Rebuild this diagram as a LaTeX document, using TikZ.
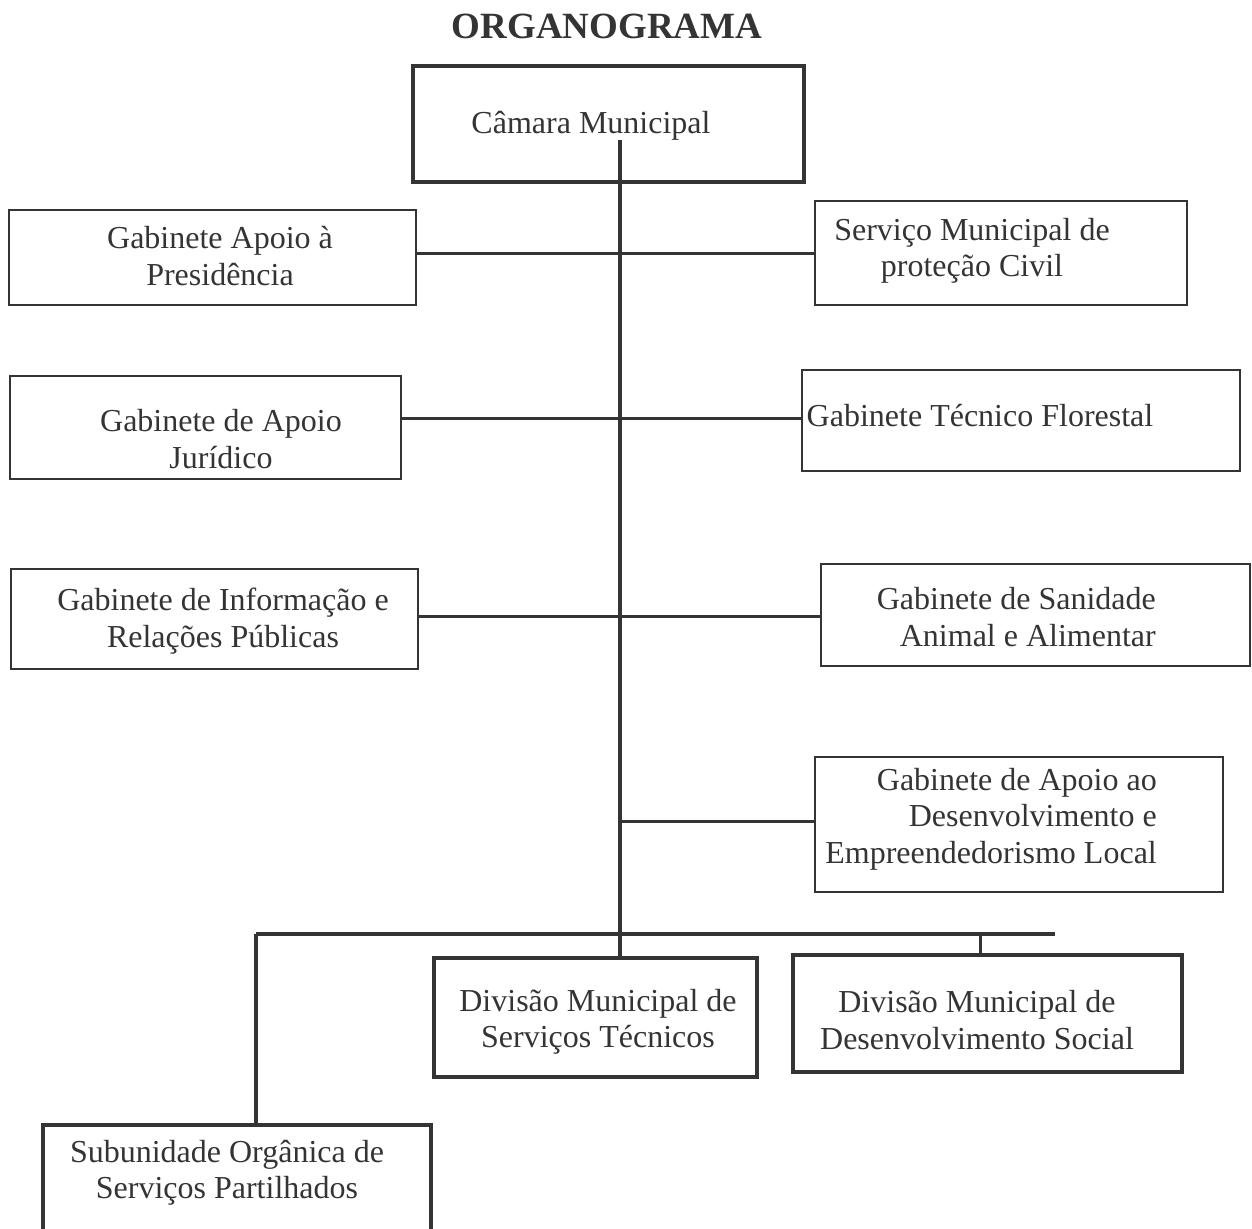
\documentclass[tikz,border=0pt]{standalone}
\usepackage{fontspec}
\setmainfont{Liberation Serif}
\definecolor{ink}{RGB}{52,52,52}
\begin{document}
\begin{tikzpicture}[x=1pt,y=-1pt,
  box/.style={draw=ink,line width=2.8pt,inner sep=0pt},
  thickbox/.style={draw=ink,line width=4.2pt,inner sep=0pt},
  lbl/.style={text=ink,inner sep=0pt,font=\fontsize{32}{36.5}\selectfont},
  conn/.style={draw=ink,line width=3pt},
  thickconn/.style={draw=ink,line width=4.4pt}]
\useasboundingbox (0,0) rectangle (1252,1228);
\clip (0,0) rectangle (1252,1228);
% title
\node[text=ink,inner sep=0pt,font=\fontsize{37}{40}\selectfont\bfseries] (title) at (607,26) {ORGANOGRAMA};
% boxes
\node[thickbox,minimum width=391,minimum height=116] (camara) at (608.5,124) {};
\node[box,minimum width=407,minimum height=95] (gap) at (212.5,257.5) {};
\node[box,minimum width=372,minimum height=104] (smpc) at (1001,253) {};
\node[box,minimum width=391,minimum height=103] (gaj) at (205.5,427.5) {};
\node[box,minimum width=438,minimum height=101] (gtf) at (1021,420.5) {};
\node[box,minimum width=407,minimum height=100] (girp) at (214.5,619) {};
\node[box,minimum width=429,minimum height=102] (gsaa) at (1035.5,615) {};
\node[box,minimum width=408,minimum height=135] (gade) at (1019,824.5) {};
\node[thickbox,minimum width=323,minimum height=119] (dmst) at (595.5,1017.5) {};
\node[thickbox,minimum width=389,minimum height=117] (dmds) at (987.5,1013.5) {};
\node[thickbox,minimum width=388,minimum height=135] (sosp) at (237,1192.5) {};
% texts
\node[lbl] (tcamara) at (591,126) {Câmara Municipal};
\node[lbl,align=center] (tgap) at (220,256) {Gabinete Apoio à\\Presidência};
\node[lbl,align=center] (tsmpc) at (972,251) {Serviço Municipal de\\proteção Civil};
\node[lbl,align=center] (tgaj) at (221,439) {Gabinete de Apoio\\Jurídico};
\node[lbl] (tgtf) at (980,416) {Gabinete Técnico Florestal};
\node[lbl,align=center] (tgirp) at (223,621) {Gabinete de Informação e\\Relações Públicas};
\node[lbl,align=right,anchor=east] (tgsaa) at (1156,617) {Gabinete de Sanidade\\Animal e Alimentar};
\node[lbl,align=right,anchor=east] (tgade) at (1157,819) {Gabinete de Apoio ao\\Desenvolvimento e\\Empreendedorismo Local};
\node[lbl,align=center] (tdmst) at (598,1022) {Divisão Municipal de\\Serviços Técnicos};
\node[lbl,align=center] (tdmds) at (977,1020) {Divisão Municipal de\\Desenvolvimento Social};
\node[lbl,align=center] (tsosp) at (227,1173) {Subunidade Orgânica de\\Serviços Partilhados};
% connectors
\coordinate (t0) at (620,140);
\coordinate (h1) at (620,253);
\coordinate (h2) at (620,418);
\coordinate (h3) at (620,616);
\coordinate (h4) at (620,821);
\coordinate (busL) at (256,934);
\coordinate (busR) at (1055,934);
\coordinate (b3) at (980,934);
\draw[conn] (gap.east |- h1) -- (smpc.west |- h1);
\draw[conn] (gaj.east |- h2) -- (gtf.west |- h2);
\draw[conn] (girp.east |- h3) -- (gsaa.west |- h3);
\draw[conn] (h4) -- (gade.west |- h4);
\draw[thickconn] (t0) -- (t0 |- dmst.north);
\draw[thickconn] (busL) -- (busR);
\draw[thickconn] (busL) -- (busL |- sosp.north);
\draw[conn] (b3) -- (b3 |- dmds.north);
\end{tikzpicture}
\end{document}
